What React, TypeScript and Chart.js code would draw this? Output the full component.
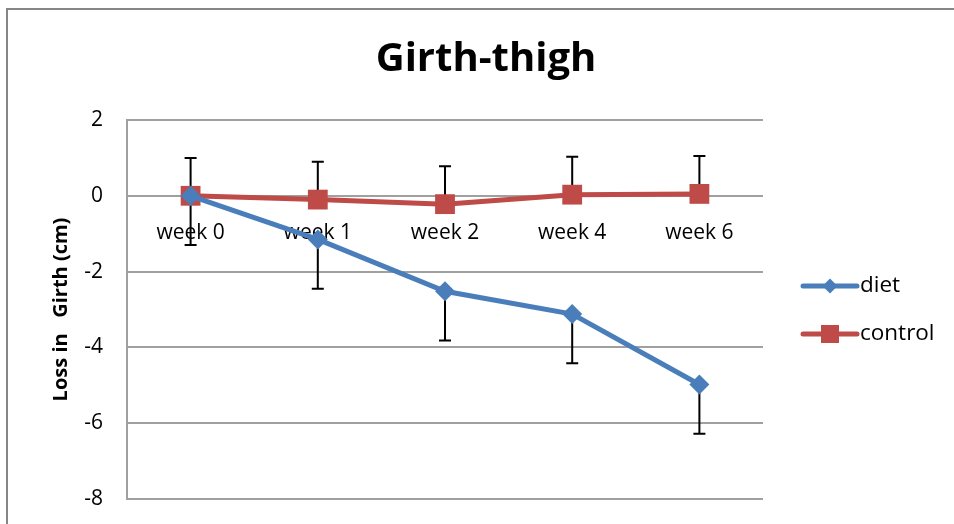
import React, { useEffect, useRef } from "react";
import { Chart, registerables } from "chart.js";

Chart.register(...registerables);

const categories = ["week 0", "week 1", "week 2", "week 4", "week 6"];
const dietValues = [0, -1.15, -2.52, -3.12, -4.98];
const controlValues = [0, -0.1, -0.22, 0.03, 0.05];
const dietErrMinus = [1.3, 1.3, 1.3, 1.3, 1.3];
const controlErrPlus = [1.0, 1.0, 1.0, 1.0, 1.0];
const yTicks = [-8, -6, -4, -2, 0, 2];
const chartTitle = "Girth-thigh";

const FONT = "'Open Sans', 'DejaVu Sans', sans-serif";
const BLUE = "#4a7ebb";
const RED = "#be4b48";
const GRID = "#a0a0a0";

const errorBarPlugin = {
  id: "errorBars",
  beforeDatasetsDraw(chart: any) {
    const ctx = chart.ctx;
    const y = chart.scales.y;
    ctx.save();
    ctx.strokeStyle = "#000";
    ctx.lineWidth = 2;
    chart.data.datasets.forEach((ds: any, di: number) => {
      const meta = chart.getDatasetMeta(di);
      meta.data.forEach((pt: any, i: number) => {
        const v = ds.data[i];
        const plus = ds.errPlus ? ds.errPlus[i] : 0;
        const minus = ds.errMinus ? ds.errMinus[i] : 0;
        const top = y.getPixelForValue(v + plus);
        const bot = y.getPixelForValue(v - minus);
        ctx.beginPath();
        ctx.moveTo(pt.x, top);
        ctx.lineTo(pt.x, bot);
        if (plus) {
          ctx.moveTo(pt.x - 6, top);
          ctx.lineTo(pt.x + 6, top);
        }
        if (minus) {
          ctx.moveTo(pt.x - 6, bot);
          ctx.lineTo(pt.x + 6, bot);
        }
        ctx.stroke();
      });
    });
    ctx.restore();
  },
};

const framePlugin = {
  id: "frame",
  beforeDraw(chart: any) {
    const ctx = chart.ctx;
    ctx.save();
    ctx.fillStyle = "#fff";
    ctx.fillRect(0, 0, chart.width, chart.height);
    ctx.strokeStyle = "#868686";
    ctx.lineWidth = 2;
    ctx.strokeRect(7, 9, chart.width + 20, chart.height + 20);
    ctx.fillStyle = "#000";
    ctx.font = `bold 40px ${FONT}`;
    ctx.textAlign = "center";
    ctx.textBaseline = "middle";
    ctx.fillText(chartTitle, chart.width / 2 + 9, 60);
    ctx.restore();
  },
};

const legendPlugin = {
  id: "customLegend",
  afterDraw(chart: any) {
    const ctx = chart.ctx;
    const area = chart.chartArea;
    const x0 = area.right + 40;
    const midY = (area.top + area.bottom) / 2;
    const items = [
      { label: "diet", color: BLUE, style: "diamond", y: midY - 23.5 },
      { label: "control", color: RED, style: "square", y: midY + 24.5 },
    ];
    ctx.save();
    items.forEach((it) => {
      ctx.strokeStyle = it.color;
      ctx.lineWidth = 5;
      ctx.lineCap = "round";
      ctx.beginPath();
      ctx.moveTo(x0, it.y);
      ctx.lineTo(x0 + 54, it.y);
      ctx.stroke();
      ctx.fillStyle = it.color;
      const cx = x0 + 27;
      if (it.style === "diamond") {
        ctx.beginPath();
        ctx.moveTo(cx, it.y - 7.5);
        ctx.lineTo(cx + 7.5, it.y);
        ctx.lineTo(cx, it.y + 7.5);
        ctx.lineTo(cx - 7.5, it.y);
        ctx.closePath();
        ctx.fill();
      } else {
        ctx.fillRect(cx - 9, it.y - 9, 18, 18);
      }
      ctx.fillStyle = "#000";
      ctx.font = `22.5px ${FONT}`;
      ctx.textBaseline = "middle";
      ctx.textAlign = "left";
      ctx.fillText(it.label, x0 + 57, it.y);
    });
    ctx.restore();
  },
};

export default function App() {
  const ref = useRef<HTMLCanvasElement | null>(null);
  useEffect(() => {
    if (!ref.current) return;
    const chart = new Chart(ref.current, {
      type: "line",
      data: {
        labels: categories,
        datasets: [
          {
            label: "diet",
            data: dietValues,
            borderColor: BLUE,
            backgroundColor: BLUE,
            borderWidth: 5,
            pointStyle: "rectRot",
            pointRadius: 10,
            pointBorderWidth: 0,
            pointBackgroundColor: BLUE,
            tension: 0,
            errMinus: dietErrMinus,
          } as any,
          {
            label: "control",
            data: controlValues,
            borderColor: RED,
            backgroundColor: RED,
            borderWidth: 5,
            pointStyle: "rect",
            pointRadius: 14,
            pointBorderWidth: 0,
            pointBackgroundColor: RED,
            tension: 0,
            errPlus: controlErrPlus,
          } as any,
        ],
      },
      options: {
        animation: false,
        responsive: false,
        maintainAspectRatio: false,
        layout: { padding: { left: 0, right: 191, top: 120, bottom: 25 } },
        plugins: {
          legend: { display: false },
          tooltip: { enabled: false },
          title: { display: false },
        },
        scales: {
          x: {
            type: "category",
            position: { y: 0 } as any,
            offset: true,
            grid: { display: false, drawTicks: false },
            border: { display: false },
            afterFit: (scale: any) => {
              scale.paddingLeft = 0;
              scale.paddingRight = 0;
            },
            ticks: {
              color: "#000",
              font: { family: FONT, size: 21 },
              padding: 25,
              maxRotation: 0,
              autoSkip: false,
            },
          },
          y: {
            min: -8,
            max: 2,
            afterBuildTicks: (scale: any) => {
              scale.ticks = yTicks.map((v) => ({ value: v }));
            },
            afterFit: (scale: any) => {
              scale.width = 127;
              scale.paddingTop = 0;
              scale.paddingBottom = 0;
            },
            grid: { color: GRID, lineWidth: 2, drawTicks: false },
            border: { display: true, color: GRID, width: 2 },
            ticks: {
              color: "#000",
              font: { family: FONT, size: 21 },
              padding: 24,
            },
            title: {
              display: true,
              text: "Loss in   Girth (cm)",
              color: "#000",
              font: { family: FONT, size: 20, weight: "bold" },
              padding: { top: 49, bottom: 0 },
            },
          },
        },
      },
      plugins: [framePlugin, errorBarPlugin, legendPlugin],
    });
    return () => chart.destroy();
  }, []);
  return (
    <div style={{ position: "absolute", left: 0, top: 0, width: 954, height: 524 }}>
      <canvas ref={ref} width={954} height={524} style={{ display: "block" }} />
    </div>
  );
}
